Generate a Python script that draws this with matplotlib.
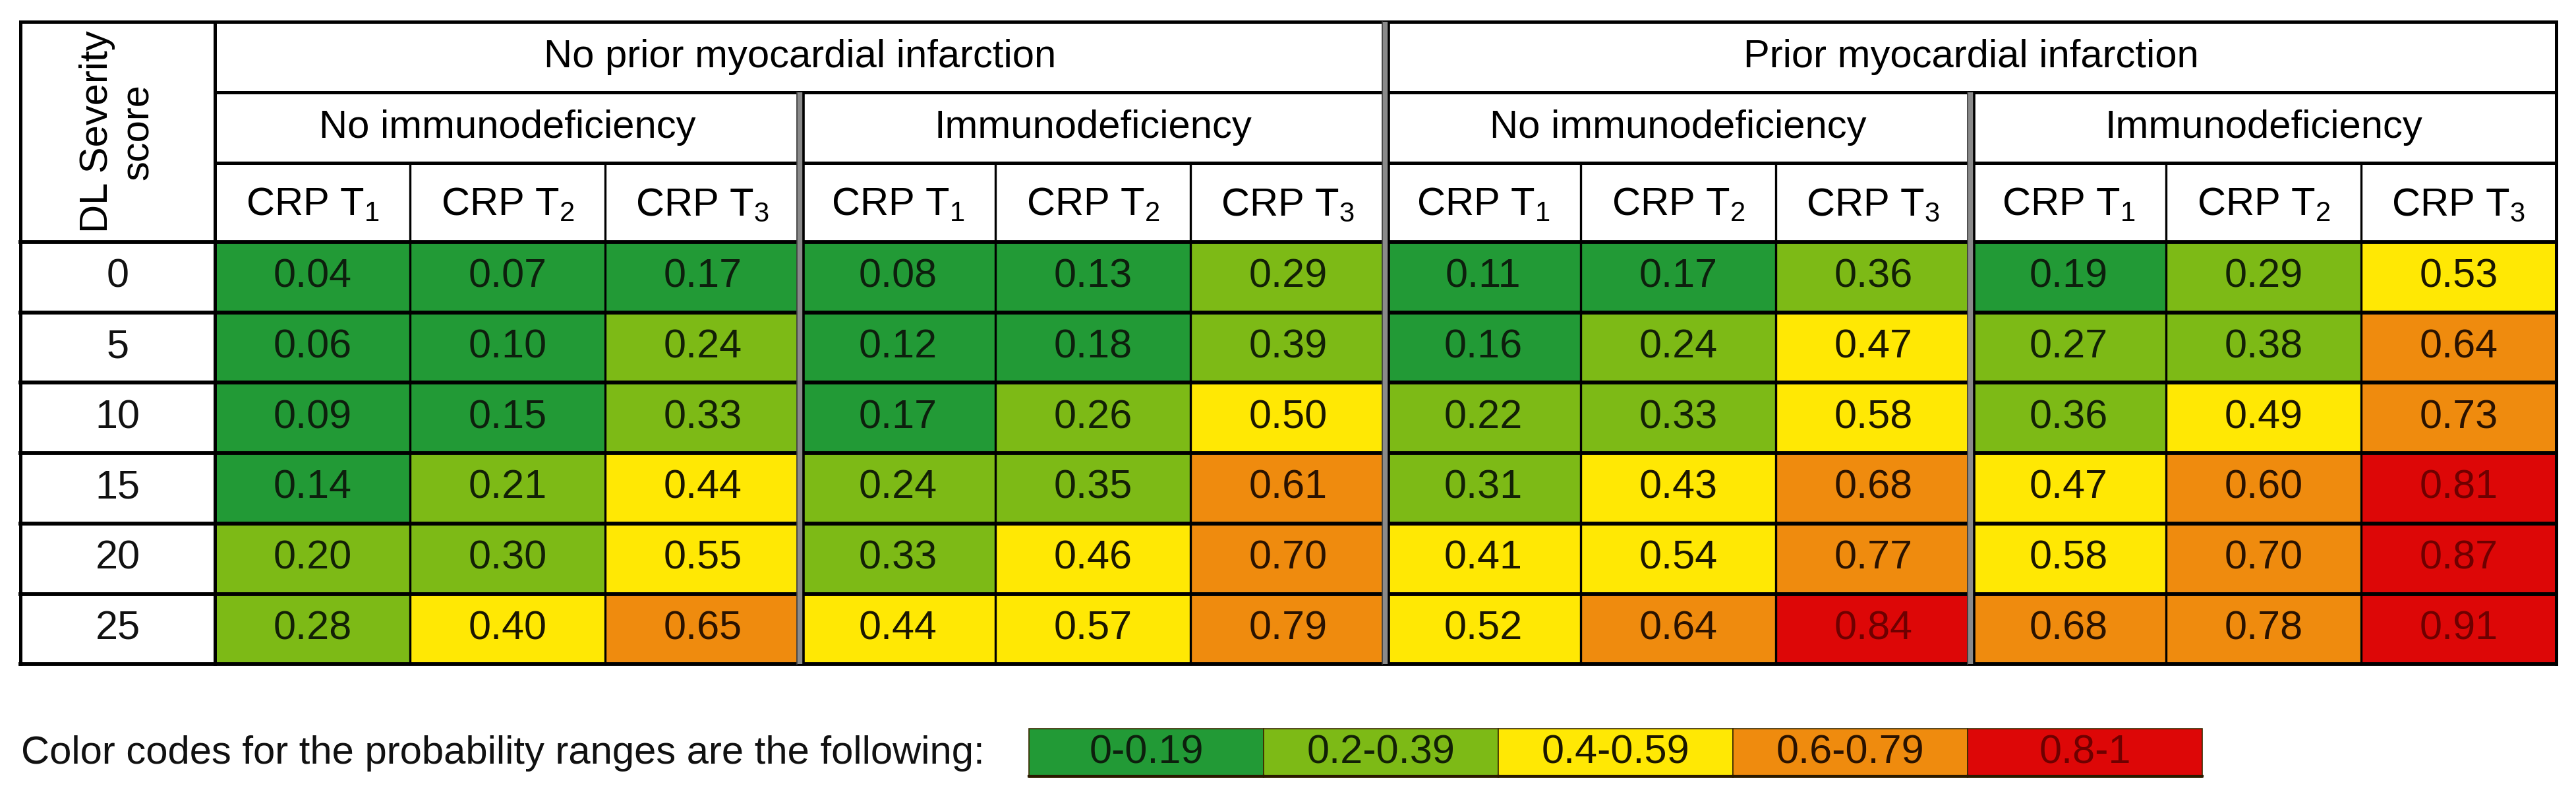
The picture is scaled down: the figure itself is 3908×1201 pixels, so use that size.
import matplotlib.pyplot as plt
from matplotlib.patches import Rectangle

plt.rcParams["font.family"] = "Liberation Sans"
plt.rcParams["mathtext.fontset"] = "custom"
plt.rcParams["mathtext.rm"] = "Liberation Sans"
plt.rcParams["mathtext.default"] = "regular"

# =========================
# Data
# =========================
severity = [0, 5, 10, 15, 20, 25]
mi_groups = ["No prior myocardial infarction", "Prior myocardial infarction"]
immuno_groups = ["No immunodeficiency", "Immunodeficiency"]
crp_labels = ["CRP T$_1$", "CRP T$_2$", "CRP T$_3$"]

# rows = severity score, columns = 12 sub-groups (left to right)
probs = [
    [0.04, 0.07, 0.17, 0.08, 0.13, 0.29, 0.11, 0.17, 0.36, 0.19, 0.29, 0.53],
    [0.06, 0.10, 0.24, 0.12, 0.18, 0.39, 0.16, 0.24, 0.47, 0.27, 0.38, 0.64],
    [0.09, 0.15, 0.33, 0.17, 0.26, 0.50, 0.22, 0.33, 0.58, 0.36, 0.49, 0.73],
    [0.14, 0.21, 0.44, 0.24, 0.35, 0.61, 0.31, 0.43, 0.68, 0.47, 0.60, 0.81],
    [0.20, 0.30, 0.55, 0.33, 0.46, 0.70, 0.41, 0.54, 0.77, 0.58, 0.70, 0.87],
    [0.28, 0.40, 0.65, 0.44, 0.57, 0.79, 0.52, 0.64, 0.84, 0.68, 0.78, 0.91],
]

range_labels = ["0-0.19", "0.2-0.39", "0.4-0.59", "0.6-0.79", "0.8-1"]
range_edges = [0.2, 0.4, 0.6, 0.8]
range_colors = ["#229a36", "#7dba16", "#ffe804", "#ef8b0e", "#dd0707"]
text_colors = ["#0d1f0d", "#122006", "#1a1600", "#2a1200", "#6e0000"]


def band(v):
    for i, e in enumerate(range_edges):
        if v < e:
            return i
    return len(range_edges)


# =========================
# Layout (pixel units)
# =========================
W, H = 3908, 1201
x0, first_w, col_w = 31, 295, 296
y_top = 33
hdr_h = [107, 107, 120]
row_h = 106.7
n_cols = 12
x_end = x0 + first_w + n_cols * col_w
y_data = y_top + sum(hdr_h)
y_end = y_data + len(severity) * row_h

fig = plt.figure(figsize=(W / 100, H / 100), dpi=100)
ax = fig.add_axes([0, 0, 1, 1])
ax.set_xlim(0, W)
ax.set_ylim(H, 0)
ax.axis("off")

fs = 43
fs_num = 44
lw_h = 3.6
lw_v = 2.4


def col_x(i):
    return x0 + first_w + i * col_w


# data cells
for r, sev in enumerate(severity):
    yc = y_data + r * row_h
    ax.text(x0 + first_w / 2, yc + row_h / 2, str(sev), ha="center", va="center",
            fontsize=fs_num, color="#111111")
    for c in range(n_cols):
        v = probs[r][c]
        b = band(v)
        ax.add_patch(Rectangle((col_x(c), yc), col_w, row_h,
                               facecolor=range_colors[b], edgecolor="none"))
        ax.text(col_x(c) + col_w / 2, yc + row_h / 2, f"{v:.2f}", ha="center",
                va="center", fontsize=fs_num, color=text_colors[b])

# header texts
y1 = y_top + hdr_h[0] / 2
y2 = y_top + hdr_h[0] + hdr_h[1] / 2
y3 = y_top + hdr_h[0] + hdr_h[1] + hdr_h[2] / 2
for g, name in enumerate(mi_groups):
    xs = col_x(g * 6)
    ax.text(xs + 3 * col_w, y1, name, ha="center", va="center", fontsize=fs)
    for s, sub in enumerate(immuno_groups):
        xss = col_x(g * 6 + s * 3)
        ax.text(xss + 1.5 * col_w, y2, sub, ha="center", va="center", fontsize=fs)
for c in range(n_cols):
    ax.text(col_x(c) + col_w / 2, y3 + 4, crp_labels[c % 3], ha="center",
            va="center", fontsize=fs)
ax.text(x0 + first_w / 2, y_top + sum(hdr_h) / 2, "DL Severity\nscore",
        ha="center", va="center", rotation=90, fontsize=fs, linespacing=1.15)

# horizontal lines
ax.plot([x0, x_end], [y_top, y_top], color="black", lw=lw_h)
ax.plot([x0 + first_w, x_end], [y_top + hdr_h[0]] * 2, color="black", lw=lw_h)
ax.plot([x0 + first_w, x_end], [y_top + hdr_h[0] + hdr_h[1]] * 2, color="black", lw=lw_h)
for r in range(len(severity) + 1):
    yy = y_data + r * row_h
    ax.plot([x0, x_end], [yy, yy], color="black", lw=lw_h + 0.6)

# vertical lines
ax.plot([x0, x0], [y_top, y_end], color="black", lw=lw_h)
ax.plot([x_end, x_end], [y_top, y_end], color="black", lw=lw_h)
ax.plot([x0 + first_w] * 2, [y_top, y_end], color="black", lw=lw_h)
y_row3 = y_top + hdr_h[0] + hdr_h[1]
for c in range(1, n_cols):
    xx = col_x(c)
    if c % 3 != 0:
        ax.plot([xx, xx], [y_row3, y_end], color="black", lw=lw_v)


def double_line(xx, ya):
    ax.plot([xx, xx], [ya, y_end], color="#8a8a8a", lw=7.5, solid_capstyle="butt")
    ax.plot([xx - 5, xx - 5], [ya, y_end], color="#3a3a3a", lw=1.2)
    ax.plot([xx + 5, xx + 5], [ya, y_end], color="black", lw=2.6)


double_line(col_x(3), y_top + hdr_h[0])
double_line(col_x(9), y_top + hdr_h[0])
double_line(col_x(6), y_top)

# =========================
# Legend
# =========================
leg_x, leg_y, leg_w, leg_h = 1561, 1105, 356, 74
ax.text(32, leg_y + leg_h / 2, "Color codes for the probability ranges are the following:",
        ha="left", va="center", fontsize=fs, color="#111111")
for i, lab in enumerate(range_labels):
    lx = leg_x + i * leg_w
    ax.add_patch(Rectangle((lx, leg_y), leg_w, leg_h, facecolor=range_colors[i],
                           edgecolor="#3a2a00", lw=1.2))
    ax.plot([lx, lx + leg_w], [leg_y + leg_h - 2] * 2, color="#2a1a00", lw=3)
    ax.text(lx + leg_w / 2, leg_y + leg_h / 2, lab, ha="center", va="center",
            fontsize=fs_num, color=text_colors[i])

fig.savefig("out.png", dpi=100, facecolor="white")
